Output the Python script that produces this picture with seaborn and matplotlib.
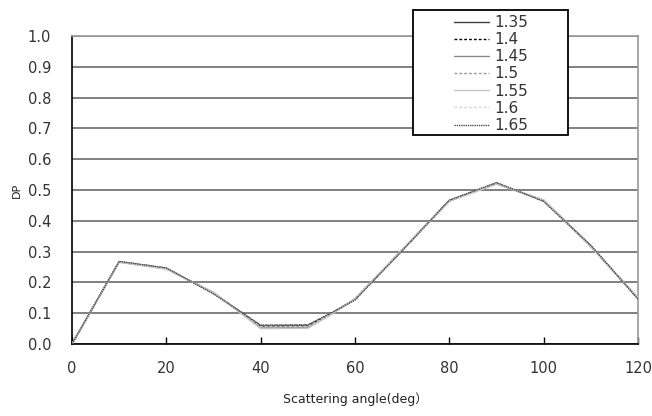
import matplotlib
matplotlib.use("Agg")
import matplotlib.pyplot as plt
from matplotlib.patches import Rectangle
from matplotlib.lines import Line2D
import seaborn as sns
import pandas as pd

# Scattering angle (deg) and degree of polarization for each refractive index
angles = [0, 10, 20, 30, 40, 50, 55, 60, 70, 80, 90, 100, 110, 120]
dp_135 = [0, 0.267, 0.245, 0.166, 0.058, 0.059, 0.099, 0.146, 0.305, 0.466, 0.521, 0.466, 0.318, 0.149]
dp_140 = [0, 0.268, 0.246, 0.164, 0.060, 0.061, 0.100, 0.144, 0.304, 0.465, 0.523, 0.464, 0.319, 0.147]
dp_145 = [0, 0.266, 0.244, 0.167, 0.052, 0.053, 0.097, 0.147, 0.306, 0.464, 0.520, 0.467, 0.316, 0.150]
dp_150 = [0, 0.267, 0.246, 0.165, 0.056, 0.057, 0.098, 0.145, 0.303, 0.467, 0.522, 0.465, 0.320, 0.146]
dp_155 = [0, 0.265, 0.243, 0.168, 0.050, 0.051, 0.096, 0.148, 0.307, 0.463, 0.519, 0.468, 0.315, 0.151]
dp_160 = [0, 0.268, 0.245, 0.164, 0.058, 0.058, 0.099, 0.144, 0.305, 0.466, 0.523, 0.464, 0.318, 0.148]
dp_165 = [0, 0.268, 0.247, 0.163, 0.061, 0.062, 0.101, 0.143, 0.303, 0.467, 0.524, 0.463, 0.320, 0.146]

labels = ["1.35", "1.4", "1.45", "1.5", "1.55", "1.6", "1.65"]
series = [dp_135, dp_140, dp_145, dp_150, dp_155, dp_160, dp_165]

colors = {"1.35": "#404040", "1.4": "#000000", "1.45": "#8c8c8c", "1.5": "#9a9a9a",
          "1.55": "#c4c4c4", "1.6": "#d4d4d4", "1.65": "#505050"}
dashes = {"1.35": "", "1.4": (2, 1.5), "1.45": "", "1.5": (2, 1.5),
          "1.55": "", "1.6": (2, 1.5), "1.65": (1, 0.6)}

df = pd.DataFrame({
    "angle": [a for _ in labels for a in angles],
    "dp": [v for s in series for v in s],
    "n": [lab for lab in labels for _ in angles],
})

sns.set_theme(style="white")
plt.rcParams["font.family"] = ["DejaVu Sans", "Noto Sans CJK JP"]

fig = plt.figure(figsize=(6.52, 4.16), dpi=100)
ax = fig.add_axes([72 / 652, 72 / 416, 566 / 652, 308 / 416])

sns.lineplot(data=df, x="angle", y="dp", hue="n", style="n", hue_order=labels,
             style_order=labels, palette=colors, dashes=dashes, linewidth=1.0,
             legend=False, ax=ax, zorder=3)

ax.set_xlim(0, 120)
ax.set_ylim(0, 1.0)
ax.set_xticks(range(0, 121, 20))
ax.set_yticks([i / 10 for i in range(11)])
ax.set_yticklabels([f"{i / 10:.1f}" for i in range(11)])
ax.yaxis.grid(True, color="#808080", linewidth=1.4)
ax.xaxis.grid(False)
ax.set_axisbelow(True)

for side in ("left", "bottom"):
    ax.spines[side].set_color("#000000")
    ax.spines[side].set_linewidth(1.2)
for side in ("top", "right"):
    ax.spines[side].set_color("#9a9a9a")
    ax.spines[side].set_linewidth(1.2)

ax.tick_params(axis="x", direction="in", length=5, width=1, color="#000000",
               pad=12, labelsize=10.5, labelcolor="#333333", bottom=True)
ax.tick_params(axis="y", length=0, pad=15, labelsize=10.5, labelcolor="#333333")
for lab in ax.get_yticklabels():
    lab.set_horizontalalignment("right")

ax.set_xlabel("Scattering angle(deg）", fontsize=9, color="#222222", labelpad=12)
ax.set_ylabel("DP", fontsize=8, color="#222222", labelpad=4)

# legend box
fig.patches.append(Rectangle((413 / 652, 1 - 135 / 416), 155 / 652, 125 / 416,
                             transform=fig.transFigure, facecolor="white",
                             edgecolor="#000000", linewidth=1.3, zorder=5))
handles = [Line2D([], [], color=colors[l], linewidth=1.0,
                  linestyle=(0, dashes[l]) if dashes[l] else "-") for l in labels]
fig.legend(handles, labels, loc="center", bbox_to_anchor=(491 / 652, 1 - 74 / 416),
           frameon=False, fontsize=11, handlelength=2.3, handletextpad=0.35,
           labelspacing=0.14, borderpad=0.0, labelcolor="#333333")

fig.savefig("out.png", dpi=100)
